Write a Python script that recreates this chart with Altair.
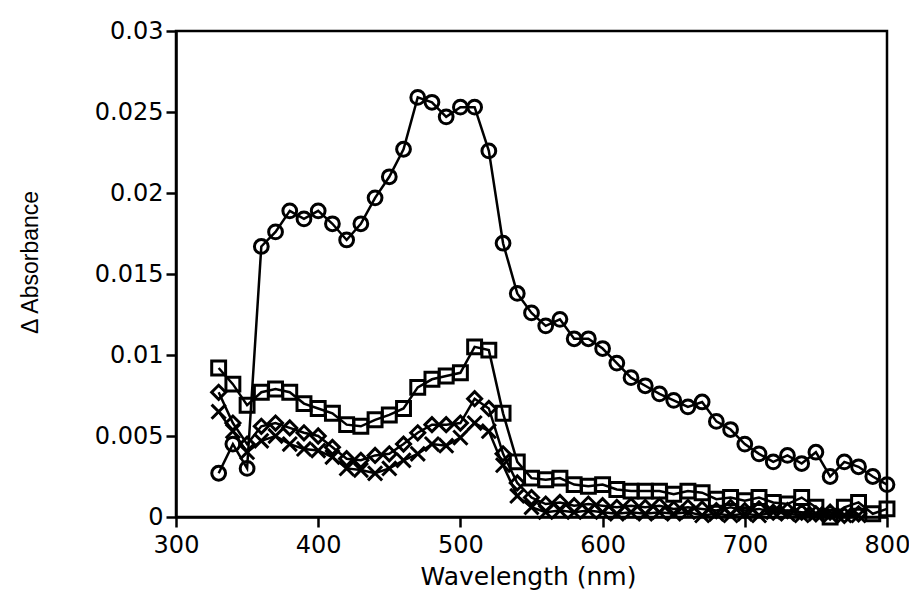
import altair as alt
import pandas as pd

# Wavelength grids (nm)
wl_full = list(range(330, 810, 10))          # 330..800
wl_dia = list(range(330, 790, 10))           # 330..780
wl_x = list(range(330, 790, 10))             # 330..780

circles = [0.0027, 0.0045, 0.0030, 0.0167, 0.0176, 0.0189, 0.0184, 0.0189, 0.0181, 0.0171,
           0.0181, 0.0197, 0.0210, 0.0227, 0.0259, 0.0256, 0.0247, 0.0253, 0.0253, 0.0226,
           0.0169, 0.0138, 0.0126, 0.0118, 0.0122, 0.0110, 0.0110, 0.0104, 0.0095, 0.0086,
           0.0081, 0.0076, 0.0072, 0.0068, 0.0071, 0.0059, 0.0054, 0.0045, 0.0039, 0.0034,
           0.0038, 0.0033, 0.0040, 0.0025, 0.0034, 0.0031, 0.0025, 0.0020]

squares = [0.0092, 0.0082, 0.0069, 0.0077, 0.0079, 0.0077, 0.0070, 0.0067, 0.0064, 0.0057,
           0.0056, 0.0060, 0.0063, 0.0067, 0.0080, 0.0085, 0.0087, 0.0089, 0.0105, 0.0103,
           0.0064, 0.0034, 0.0024, 0.0023, 0.0024, 0.0020, 0.0019, 0.0020, 0.0017, 0.0016,
           0.0016, 0.0016, 0.0014, 0.0016, 0.0015, 0.0011, 0.0012, 0.0010, 0.0012, 0.0009,
           0.0008, 0.0012, 0.0006, 0.0000, 0.0006, 0.0009, 0.0002, 0.0005]

diamonds = [0.0077, 0.0058, 0.0045, 0.0056, 0.0058, 0.0055, 0.0052, 0.0050, 0.0043, 0.0036,
            0.0035, 0.0038, 0.0039, 0.0045, 0.0052, 0.0057, 0.0057, 0.0058, 0.0073, 0.0067,
            0.0039, 0.0021, 0.0012, 0.0008, 0.0009, 0.0007, 0.0008, 0.0007, 0.0006, 0.0007,
            0.0006, 0.0007, 0.0005, 0.0006, 0.0005, 0.0004, 0.0006, 0.0004, 0.0005, 0.0003,
            0.0004, 0.0003, 0.0002, 0.0003, 0.0001, 0.0002]

crosses = [0.0065, 0.0053, 0.0040, 0.0047, 0.0050, 0.0045, 0.0042, 0.0041, 0.0037, 0.0030,
           0.0029, 0.0027, 0.0030, 0.0035, 0.0039, 0.0045, 0.0044, 0.0049, 0.0058, 0.0053,
           0.0032, 0.0013, 0.0006, 0.0003, 0.0004, 0.0003, 0.0004, 0.0003, 0.0002, 0.0003,
           0.0002, 0.0003, 0.0002, 0.0003, 0.0001, 0.0002, 0.0001, 0.0002, 0.0001, 0.0003,
           0.0002, 0.0001, 0.0002, 0.0001, 0.0001, 0.0001]

series_names = ["circle", "square", "diamond", "cross"]
series_shapes = ["circle", "square", "diamond", "M-1,-1L1,1M-1,1L1,-1"]
series_sizes = [190, 200, 240, 140]

x_ticks = [300, 400, 500, 600, 700, 800]
y_ticks = [0, 0.005, 0.01, 0.015, 0.02, 0.025, 0.03]

rows = []
for name, wls, vals in [("circle", wl_full, circles), ("square", wl_full, squares),
                        ("diamond", wl_dia, diamonds), ("cross", wl_x, crosses)]:
    for w, v in zip(wls, vals):
        rows.append({"series": name, "wl": w, "val": v})
df = pd.DataFrame(rows)

x_enc = alt.X("wl:Q", scale=alt.Scale(domain=[300, 800], nice=False),
              axis=alt.Axis(values=x_ticks, title="Wavelength (nm)", format="d",
                            titleFont="DejaVu Sans", titleFontSize=25,
                            titleX=352, titleY=47, titleBaseline="top", titleAlign="center",
                            labelPadding=6, labelFlush=False, labelOverlap=False))
y_enc = alt.Y("val:Q", scale=alt.Scale(domain=[0, 0.03], nice=False),
              axis=alt.Axis(values=y_ticks, title="Δ Absorbance", format="~g",
                            titleFont="Liberation Sans", titleFontSize=23,
                            titleX=-134, titleY=231, titleAngle=-90,
                            titleAlign="center", titleBaseline="bottom",
                            labelPadding=3, labelFlush=False, labelOverlap=False))

base = alt.Chart(df)
lines = base.mark_line(color="black", strokeWidth=2.5).encode(
    x=x_enc, y=y_enc, detail="series:N")
points = base.mark_point(filled=False, color="black", strokeWidth=3, opacity=1).encode(
    x=x_enc, y=y_enc,
    shape=alt.Shape("series:N", scale=alt.Scale(domain=series_names, range=series_shapes), legend=None),
    size=alt.Size("series:N", scale=alt.Scale(domain=series_names, range=series_sizes), legend=None),
)

chart = alt.layer(lines, points).properties(
    width=711, height=486,
    autosize=alt.AutoSizeParams(type="none"),
    padding={"left": 168, "top": 23, "right": 22, "bottom": 80},
).configure_view(
    stroke="black", strokeWidth=2.5
).configure_axis(
    grid=False, domainColor="black", domainWidth=2.5, tickColor="black", tickWidth=2.5,
    tickSize=10, labelFont="DejaVu Sans", labelFontSize=24, labelColor="black",
    titleColor="black", titleFontWeight="normal",
)

chart.save("out.html", embed_options={"renderer": "svg", "actions": False})
